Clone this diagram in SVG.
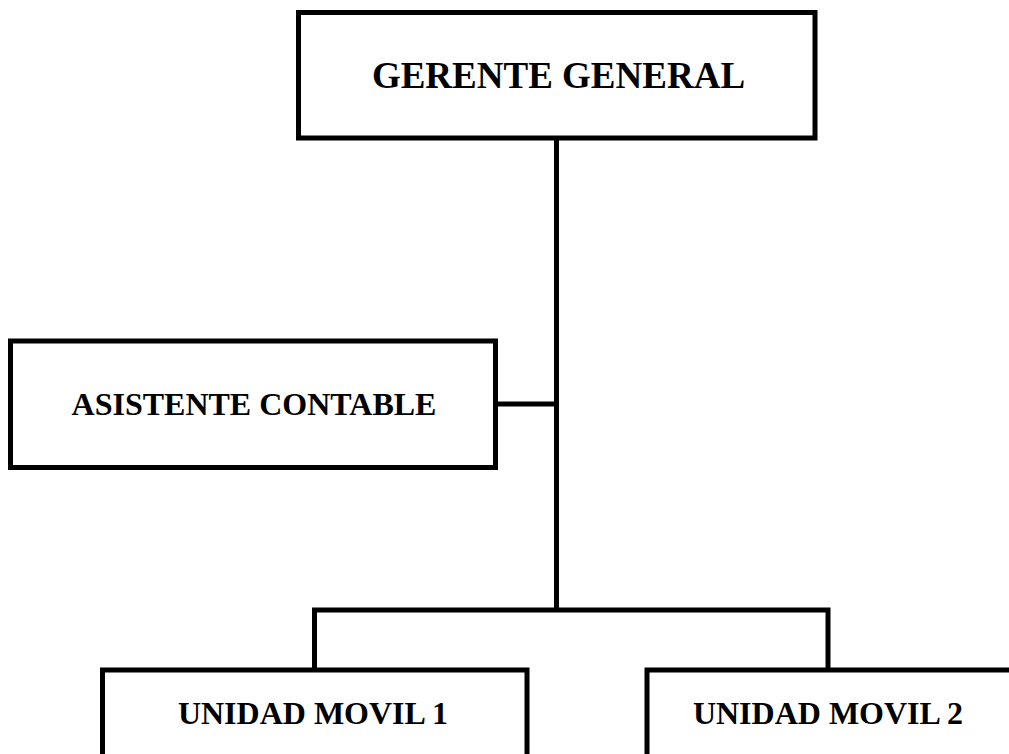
<svg xmlns="http://www.w3.org/2000/svg" width="1009" height="754" viewBox="0 0 1009 754">
<style>
.box{fill:#fff;stroke:#000;stroke-width:5;stroke-linejoin:miter}
.lbl{font-family:"Liberation Serif","Times New Roman",serif;font-weight:bold;fill:#000;text-anchor:middle}
.con{fill:none;stroke:#000;stroke-width:5;stroke-linejoin:miter}
</style>
<rect width="1009" height="754" fill="#fff"/>
<g id="connectors">
<path class="con" d="M556.5 138 V610"/>
<path class="con" d="M495.5 404 H556.5"/>
<path class="con" d="M314.5 670 V610 H828 V670"/>
</g>
<g id="gerente">
<rect class="box" x="298.5" y="12.5" width="516.5" height="125.5"/>
<text class="lbl" x="558.5" y="87.5" font-size="37">GERENTE GENERAL</text>
</g>
<g id="asistente">
<rect class="box" x="10.5" y="341" width="485" height="126.5"/>
<text class="lbl" x="254" y="415" font-size="32">ASISTENTE CONTABLE</text>
</g>
<g id="unidad1">
<rect class="box" x="102.5" y="670" width="424.5" height="100"/>
<text class="lbl" x="313" y="724" font-size="32">UNIDAD MOVIL 1</text>
</g>
<g id="unidad2">
<rect class="box" x="647" y="670" width="380" height="100"/>
<text class="lbl" x="828" y="724" font-size="32">UNIDAD MOVIL 2</text>
</g>
</svg>
